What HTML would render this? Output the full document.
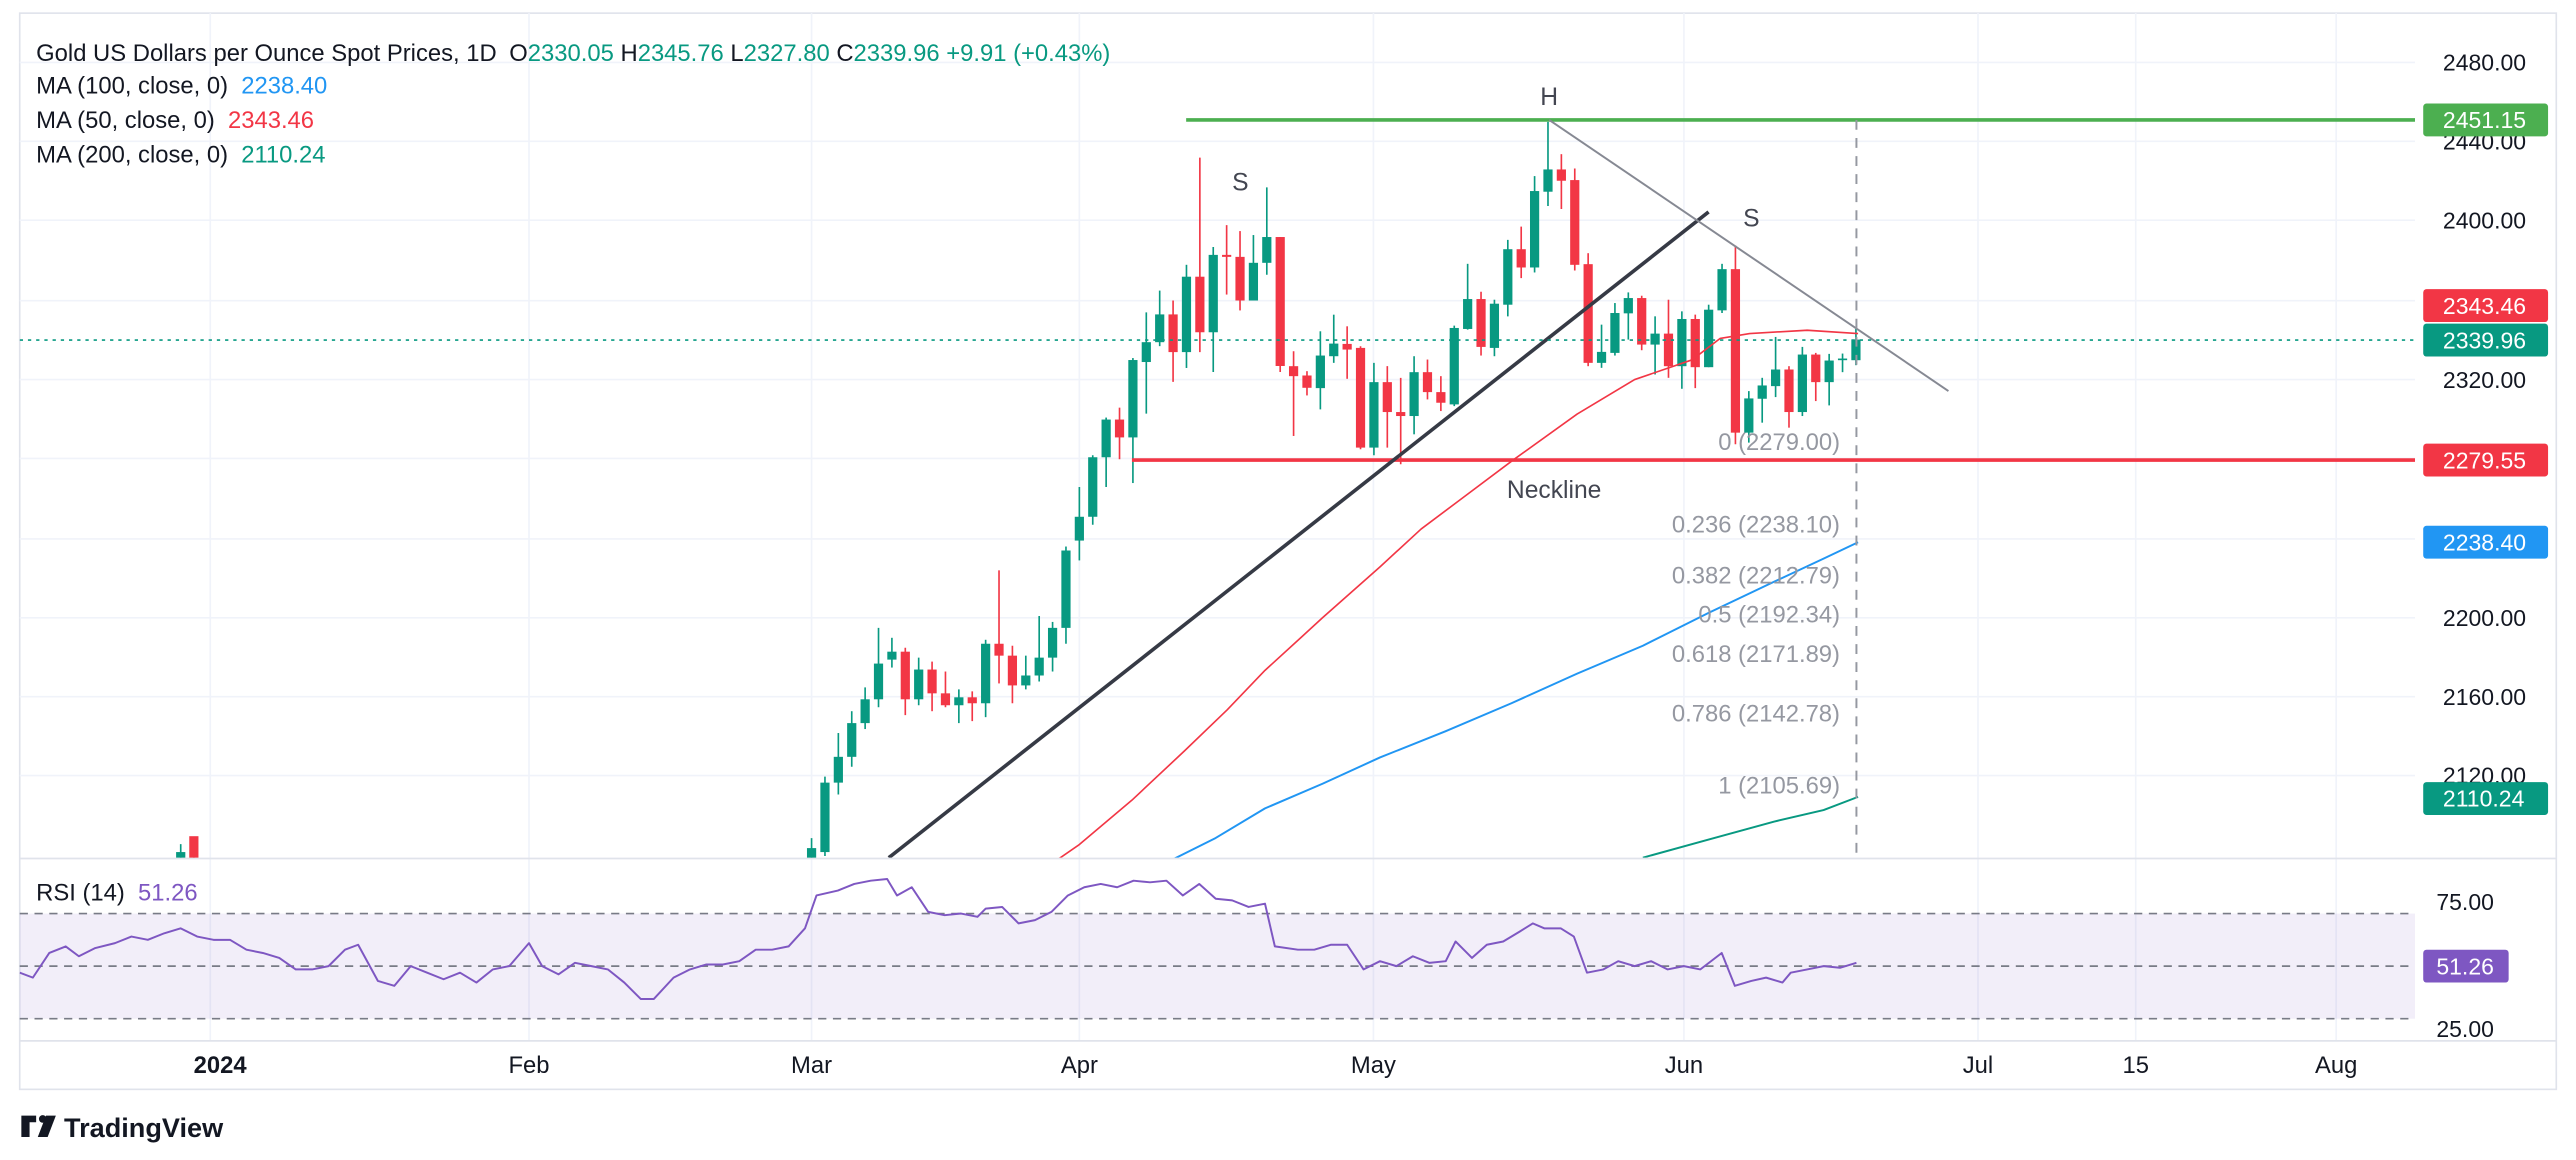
<!DOCTYPE html>
<html><head><meta charset="utf-8"><style>
html,body{margin:0;padding:0;background:#fff;}
svg{display:block;font-family:"Liberation Sans",sans-serif;}
</style></head><body>
<svg id="s" width="2576" height="1160" viewBox="0 0 1568 706" preserveAspectRatio="none" xmlns="http://www.w3.org/2000/svg">
<defs>
<clipPath id="cm"><rect x="12" y="8" width="1458" height="514"/></clipPath>
<clipPath id="cr"><rect x="12" y="523" width="1458" height="110"/></clipPath>
</defs>
<rect x="12" y="8" width="1544" height="655" fill="#fff" stroke="#e0e3eb" stroke-width="1"/>
<g id="grid" stroke="#f0f3fa" stroke-width="1"></g>
<line x1="12" y1="522.5" x2="1556" y2="522.5" stroke="#e0e3eb"/>
<line x1="12" y1="633.5" x2="1556" y2="633.5" stroke="#e0e3eb"/>
<rect x="12" y="556" width="1458" height="64" fill="#7e57c2" fill-opacity="0.1"/>
<g stroke="#787b86" stroke-dasharray="5,4" stroke-width="1">
<line x1="12" y1="556" x2="1470" y2="556"/><line x1="12" y1="588" x2="1470" y2="588"/><line x1="12" y1="620" x2="1470" y2="620"/>
</g>
<g id="main" clip-path="url(#cm)"></g>
<g id="rsi" clip-path="url(#cr)"></g>
<g font-size="14.5" fill="#131722">
<text x="22" y="37">Gold US Dollars per Ounce Spot Prices, 1D</text>
<text x="310" y="37" fill="#131722">O<tspan fill="#089981">2330.05</tspan> H<tspan fill="#089981">2345.76</tspan> L<tspan fill="#089981">2327.80</tspan> C<tspan fill="#089981">2339.96</tspan> <tspan fill="#089981">+9.91 (+0.43%)</tspan></text>
<text x="22" y="57">MA (100, close, 0) <tspan fill="#2196f3" dx="4">2238.40</tspan></text>
<text x="22" y="78">MA (50, close, 0) <tspan fill="#f23645" dx="4">2343.46</tspan></text>
<text x="22" y="99">MA (200, close, 0) <tspan fill="#089981" dx="4">2110.24</tspan></text>
<text x="22" y="548">RSI (14) <tspan fill="#7e57c2" dx="4">51.26</tspan></text>
</g>
<g font-size="15" fill="#434651">
<text x="943" y="64" text-anchor="middle">H</text>
<text x="755" y="116" text-anchor="middle">S</text>
<text x="1066" y="138" text-anchor="middle">S</text>
<text x="946" y="303" text-anchor="middle">Neckline</text>
</g>
<g font-size="14.5" fill="#9598a1" text-anchor="end">
<text x="1120" y="274">0 (2279.00)</text>
<text x="1120" y="324">0.236 (2238.10)</text>
<text x="1120" y="355">0.382 (2212.79)</text>
<text x="1120" y="379">0.5 (2192.34)</text>
<text x="1120" y="403">0.618 (2171.89)</text>
<text x="1120" y="439">0.786 (2142.78)</text>
<text x="1120" y="483">1 (2105.69)</text>
</g>
<g font-size="14" fill="#131722">
<text x="1487" y="43">2480.00</text>
<text x="1487" y="91">2440.00</text>
<text x="1487" y="139">2400.00</text>
<text x="1487" y="236">2320.00</text>
<text x="1487" y="381">2200.00</text>
<text x="1487" y="429">2160.00</text>
<text x="1487" y="477">2120.00</text>
<text x="1483" y="554">75.00</text>
<text x="1483" y="631">25.00</text>
</g>
<g font-size="14" fill="#fff">
<rect x="1475" y="63" width="76" height="20" rx="2" fill="#4caf50"/><text x="1487" y="78">2451.15</text>
<rect x="1475" y="176" width="76" height="20" rx="2" fill="#f23645"/><text x="1487" y="191">2343.46</text>
<rect x="1475" y="197" width="76" height="20" rx="2" fill="#089981"/><text x="1487" y="212">2339.96</text>
<rect x="1475" y="270" width="76" height="20" rx="2" fill="#f23645"/><text x="1487" y="285">2279.55</text>
<rect x="1475" y="320" width="76" height="20" rx="2" fill="#2196f3"/><text x="1487" y="335">2238.40</text>
<rect x="1475" y="476" width="76" height="20" rx="2" fill="#089981"/><text x="1487" y="491">2110.24</text>
<rect x="1475" y="578" width="52" height="20" rx="2" fill="#7e57c2"/><text x="1483" y="593">51.26</text>
</g>
<g font-size="14.5" fill="#131722" text-anchor="middle">
<text x="134" y="653" font-weight="bold">2024</text>
<text x="322" y="653">Feb</text>
<text x="494" y="653">Mar</text>
<text x="657" y="653">Apr</text>
<text x="836" y="653">May</text>
<text x="1025" y="653">Jun</text>
<text x="1204" y="653">Jul</text>
<text x="1300" y="653">15</text>
<text x="1422" y="653">Aug</text>
</g>
<g>
<path d="M13 679 h9 v4 h-4 v9 h-5 z" fill="#131722"/>
<circle cx="26" cy="681" r="2.3" fill="#131722"/>
<path d="M28 679 h6 l-5 13 h-6 z" fill="#131722"/>
<text x="39" y="692" font-size="16.5" font-weight="bold" fill="#131722">TradingView</text>
</g>
</svg>
<script>
var NS="http://www.w3.org/2000/svg";
function el(p,t,a){var e=document.createElementNS(NS,t);for(var k in a)e.setAttribute(k,a[k]);p.appendChild(e);return e;}
var Y=function(p){return 38+(2480-p)*1.2075;};
var grid=document.getElementById('grid');
[38,86,134,183,231,279,328,376,424,472].forEach(function(y){el(grid,'line',{x1:12,x2:1470,y1:y,y2:y});});
[128,322,494,657,836,1025,1204,1300,1422].forEach(function(x){el(grid,'line',{x1:x,x2:x,y1:8,y2:633});});
var m=document.getElementById('main');
var G="#089981",R="#f23645";
var A=[[2070,2089,2060,2084],[2082,2120,2080,2117],[2117,2142,2111,2130],[2130,2153,2125,2147],[2147,2165,2144,2159],[2159,2195,2155,2177],[2179,2190,2175,2183],[2183,2185,2151,2159],[2159,2180,2156,2174],[2174,2178,2153,2162],[2162,2173,2155,2156],[2156,2164,2147,2160],[2160,2163,2148,2157],[2157,2189,2150,2187],[2187,2224,2167,2181],[2181,2186,2157,2166],[2166,2181,2164,2171],[2171,2201,2168,2180],[2180,2198,2173,2195],[2195,2236,2187,2234],[2239,2266,2229,2251],[2251,2282,2247,2281],[2281,2301,2266,2300],[2300,2306,2280,2291],[2291,2331,2268,2330],[2329,2354,2303,2339],[2339,2365,2337,2353],[2353,2360,2319,2334],[2334,2378,2326,2372],[2372,2432,2334,2344],[2344,2387,2324,2383],[2383,2398,2363,2382],[2382,2395,2355,2360],[2360,2393,2360,2379],[2379,2417,2373,2392],[2392,2392,2324,2327]];
var B=[['R',800,830,755,1010],['R',828,865,815,888],['G',768,866,695,930],['G',732,770,645,790],['R',733,750,680,838],['R',745,1045,740,1050],['G',848,1045,790,1068],['R',848,938,800,1045],['R',938,950,835,1095],['G',818,950,770,1005],['R',818,878,780,900],['R',878,910,830,935],['G',685,915,678,920],['G',598,688,492,690],['R',598,742,576,768],['G',612,745,600,770],['G',448,615,420,650],['R',448,503,380,535],['G',273,503,228,518],['G',208,275,65,318],['R',208,242,162,327],['R',240,495,205,512],['R',493,790,460,800],['G',757,790,675,805],['G',640,760,610,768],['G',595,641,578,720],['R',595,735,588,752],['G',702,735,650,825],['R',702,800,600,835],['G',658,800,635,868],['R',658,803,645,866],['G',630,803,615,803],['G',508,632,492,640],['R',508,1000,437,1035],['G',897,1000,875,1030],['G',858,898,835,970],['G',810,860,712,893],['R',810,938,800,985],['G',765,938,742,950],['R',765,848,760,905],['G',783,848,763,918],['G',777,780,762,818],['G',720,782,688,797]];
var P1=function(z){return 2280+(1080-z)/5.97;};
B.forEach(function(b){var t=P1(b[1]),bb=P1(b[2]),h=P1(b[3]),l=P1(b[4]);A.push(b[0]=='G'?[bb,h,l,t]:[t,h,l,bb]);});
function candle(x,o,h,l,c){var col=c>=o?G:R;el(m,'line',{x1:x,x2:x,y1:Y(h),y2:Y(l),stroke:col,'stroke-width':1});var t=Math.min(Y(o),Y(c)),bh=Math.max(Math.abs(Y(o)-Y(c)),1);el(m,'rect',{x:x-2.8,y:t,width:5.6,height:bh,fill:col});}
A.forEach(function(a,i){candle(494+i*8.15,a[0],a[1],a[2],a[3]);});
candle(110,2075,2086,2070,2082);candle(118,2090,2089,2070,2075);
function poly(pts,col,w,par,extra){var a={points:pts,fill:'none',stroke:col,'stroke-width':w,'stroke-linejoin':'round'};for(var k in extra)a[k]=extra[k];el(par||m,'polyline',a);}
poly("644,523 657,514 689,487 721,457 747,432 770,408 793,387 805,376 840,345 865,322 889,304 921,280 960,252 995,231 1030,219 1047,206 1065,203 1100,201 1131,203",R,1);
poly("714,523 740,510 770,492 805,477 840,461 880,445 920,428 960,410 1000,393 1040,373 1080,354 1110,340 1131,330","#2196f3",1.2);
poly("1000,522 1040,511 1080,500 1110,493 1131,485",G,1.2);
el(m,'line',{x1:722,x2:1470,y1:73,y2:73,stroke:'#4caf50','stroke-width':2.2});
el(m,'line',{x1:689,x2:1470,y1:280,y2:280,stroke:R,'stroke-width':2.2});
el(m,'line',{x1:541,x2:1040,y1:522,y2:129,stroke:'#363a45','stroke-width':2.2});
el(m,'line',{x1:943,x2:1186,y1:73,y2:238,stroke:'#868993','stroke-width':1.2});
el(m,'line',{x1:1130,x2:1130,y1:73,y2:522,stroke:'#9598a1','stroke-width':1.2,'stroke-dasharray':'6,5'});
el(m,'line',{x1:12,x2:1470,y1:207,y2:207,stroke:G,'stroke-width':1,'stroke-dasharray':'2,3'});
var r="12,592 20,595 30,580 40,576 48,582 58,577 70,574 80,570 90,572 100,568 110,565 120,570 130,572 140,572 150,578 160,580 170,583 180,590 190,590 200,588 210,578 218,575 230,597 240,600 250,588 260,592 270,596 280,592 290,598 300,590 310,588 322,574 330,588 340,593 350,586 360,588 370,590 380,598 390,608 398,608 410,595 420,590 430,587 440,587 450,585 460,578 470,578 480,576 490,565 497,545 510,542 520,538 530,536 540,535 546,545 555,540 565,555 575,557 585,556 595,558 600,553 610,552 620,562 630,560 640,555 650,545 660,540 670,538 680,540 690,536 700,537 710,536 720,545 730,538 740,547 750,548 760,552 770,550 776,576 790,578 800,578 810,575 820,575 830,590 840,585 850,588 860,582 870,586 880,585 886,573 896,583 905,575 915,573 925,567 933,562 940,565 950,565 958,570 966,592 976,590 985,585 995,588 1005,585 1015,590 1025,588 1035,590 1048,580 1056,600 1066,597 1075,595 1085,598 1090,592 1100,590 1110,588 1120,589 1130,586";
poly(r,"#7e57c2",1.2,document.getElementById('rsi'));
</script>
</body></html>
